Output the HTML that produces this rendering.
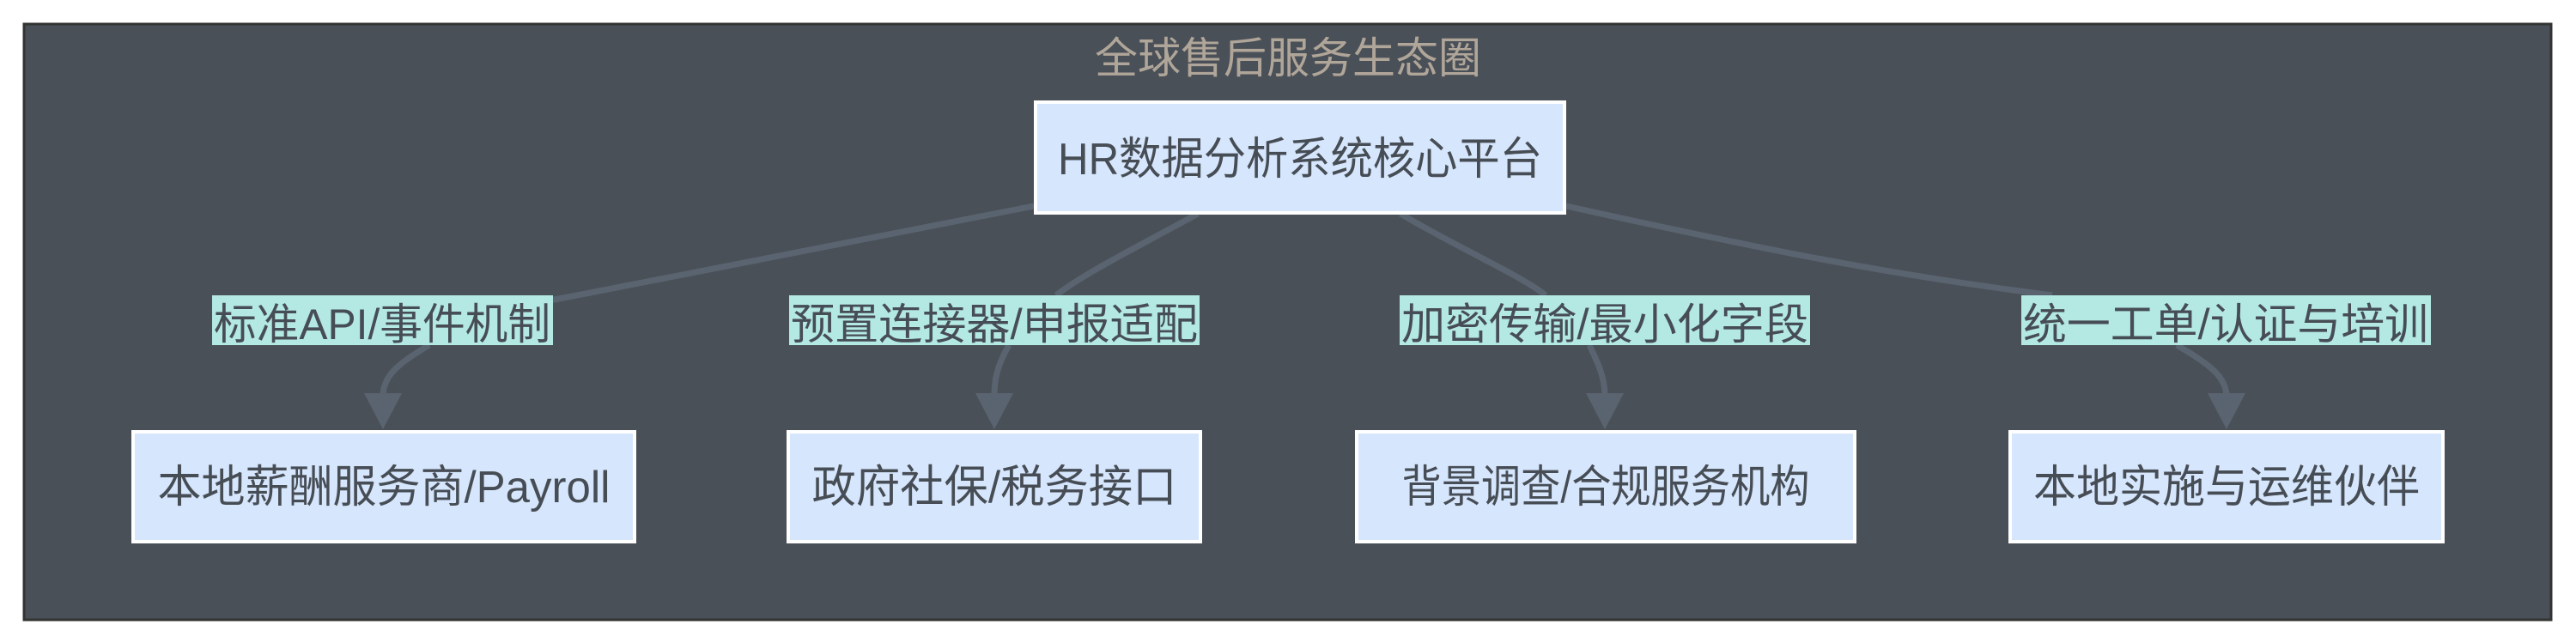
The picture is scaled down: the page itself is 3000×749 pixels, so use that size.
<!DOCTYPE html>
<html><head><meta charset="utf-8"><style>
html,body{margin:0;padding:0;background:#fff;width:3000px;height:749px;overflow:hidden}
svg{display:block}
text{font-family:"Liberation Sans","Noto Sans CJK SC",sans-serif}
</style></head><body>
<svg width="3000" height="749" viewBox="0 0 3000 749">
<rect x="28" y="28" width="2943" height="694" fill="#4a5058" stroke="#333" stroke-width="3"/>
<text x="1500" y="85" text-anchor="middle" font-size="50" fill="#b0a599" textLength="450" lengthAdjust="spacingAndGlyphs">全球售后服务生态圈</text>
<g fill="none" stroke="#5a6470" stroke-width="7">
<path d="M1204,240 C950,290 800,320 640,350"/>
<path d="M500,402 C460,425 446,440 446,462"/>
<path d="M1395,249 C1320,290 1260,320 1230,344"/>
<path d="M1175,402 C1162,425 1158,440 1158,462"/>
<path d="M1631,249 C1700,290 1770,320 1800,344"/>
<path d="M1851,402 C1862,425 1869,440 1869,462"/>
<path d="M1824,240 C2050,290 2200,320 2390,344"/>
<path d="M2535,402 C2575,425 2593,440 2593,462"/>
</g>
<g fill="#5a6470">
<polygon points="424,458 468,458 446,500"/>
<polygon points="1136,458 1180,458 1158,500"/>
<polygon points="1847,458 1891,458 1869,500"/>
<polygon points="2571,458 2615,458 2593,500"/>
</g>
<g fill="#d6e6fd" stroke="#fff" stroke-width="4">
<rect x="1206" y="119" width="616" height="129"/>
<rect x="155" y="503" width="584" height="128"/>
<rect x="918" y="503" width="480" height="128"/>
<rect x="1580" y="503" width="580" height="128"/>
<rect x="2341" y="503" width="504" height="128"/>
</g>
<g fill="#b3e8e3">
<rect x="247" y="344" width="397" height="58"/>
<rect x="919" y="344" width="478" height="58"/>
<rect x="1630" y="344" width="478" height="58"/>
<rect x="2354" y="344" width="477" height="58"/>
</g>
<g fill="#474d55" font-size="52" text-anchor="middle" lengthAdjust="spacingAndGlyphs">
<text x="1514" y="203" textLength="564" lengthAdjust="spacingAndGlyphs">HR数据分析系统核心平台</text>
<text x="447" y="585" textLength="527" lengthAdjust="spacingAndGlyphs">本地薪酬服务商/Payroll</text>
<text x="1158" y="585" textLength="425" lengthAdjust="spacingAndGlyphs">政府社保/税务接口</text>
<text x="1870" y="585" textLength="475" lengthAdjust="spacingAndGlyphs">背景调查/合规服务机构</text>
<text x="2593" y="585" textLength="450" lengthAdjust="spacingAndGlyphs">本地实施与运维伙伴</text>
</g>
<g fill="#474d55" font-size="50" text-anchor="middle">
<text x="445" y="395" textLength="392" lengthAdjust="spacingAndGlyphs">标准API/事件机制</text>
<text x="1158" y="395" textLength="474" lengthAdjust="spacingAndGlyphs">预置连接器/申报适配</text>
<text x="1869" y="395" textLength="474" lengthAdjust="spacingAndGlyphs">加密传输/最小化字段</text>
<text x="2592" y="395" textLength="472" lengthAdjust="spacingAndGlyphs">统一工单/认证与培训</text>
</g>
</svg>
</body></html>
